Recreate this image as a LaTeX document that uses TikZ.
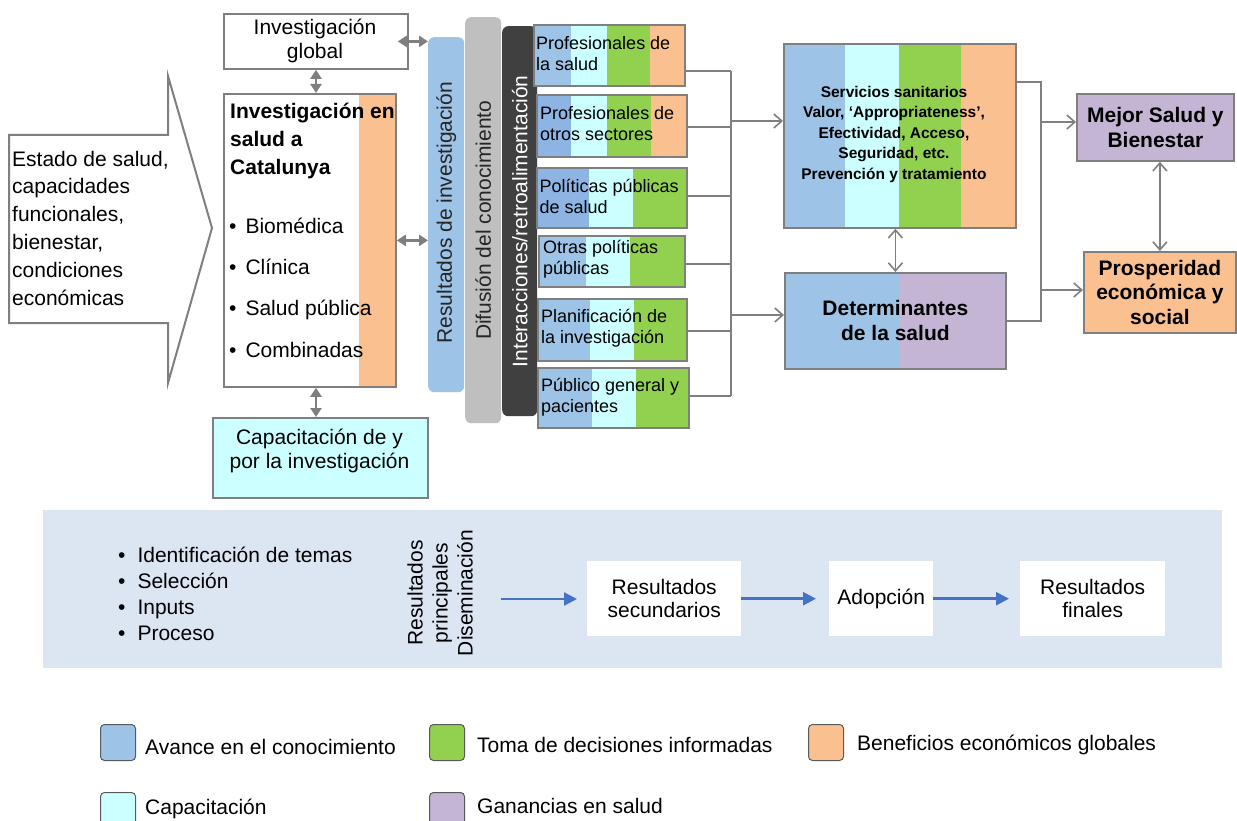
\documentclass[tikz,border=0pt]{standalone}
\usepackage{fontspec}
\setmainfont{Liberation Sans}
\usetikzlibrary{arrows.meta,calc}
\definecolor{cblue}{HTML}{9DC3E6}
\definecolor{cblued}{HTML}{8EB4E3}
\definecolor{ccyan}{HTML}{CCFFFF}
\definecolor{cgreen}{HTML}{92D050}
\definecolor{corange}{HTML}{FAC090}
\definecolor{cpurple}{HTML}{C4B5D5}
\definecolor{cgray}{HTML}{7F7F7F}
\definecolor{cband}{HTML}{DCE6F2}
\definecolor{carrow}{HTML}{4472C4}
\definecolor{cbar}{HTML}{BFBFBF}
\definecolor{cdark}{HTML}{404040}
\definecolor{swline}{HTML}{595959}
\newcommand{\fmain}{\fontsize{21pt}{27.8pt}\selectfont}
\newcommand{\fsk}{\fontsize{18pt}{21pt}\selectfont}
\newcommand{\fserv}{\fontsize{15.5pt}{20.5pt}\selectfont\bfseries}
\newcommand{\fbold}{\fontsize{21pt}{25pt}\selectfont\bfseries}
\begin{document}
\begin{tikzpicture}[x=1pt,y=-1pt,
  box/.style={draw=cgray, line width=1.8pt, inner sep=0pt, anchor=north west},
  txt/.style={inner sep=0pt, font=\fmain, text=black},
  lbl/.style={txt, text height=15pt, text depth=0pt, anchor=west},
  stxt/.style={inner sep=0pt, font=\fsk, align=left, anchor=west},
  barbox/.style={rounded corners=6pt, inner sep=0pt, anchor=north west, draw=none},
  conn/.style={draw=cgray, line width=1.6pt},
  oarr/.style={conn, -{Straight Barb[length=8pt,width=14pt]}},
  doarr/.style={conn, {Straight Barb[length=8pt,width=14pt]}-{Straight Barb[length=8pt,width=14pt]}},
  darr/.style={draw=cgray, line width=2.6pt, {Triangle[length=9pt,width=11pt]}-{Triangle[length=9pt,width=11pt]}},
  barr/.style={draw=carrow, line width=2.5pt, -{Triangle[length=13pt,width=13pt]}},
  wbox/.style={fill=white, inner sep=0pt, anchor=north west, align=center, font=\fontsize{21pt}{23.5pt}\selectfont},
  swatch/.style={draw=swline, line width=1pt, rounded corners=4pt, minimum width=35pt, minimum height=36pt, inner sep=0pt, anchor=north west},
]
\useasboundingbox (0,0) rectangle (1237,821);
\fill[white] (0,0) rectangle (1237,821);

% big arrow
\draw[draw=cgray, line width=2pt, fill=white] (9,135) -- (168,135) -- (168,76) -- (212,228) -- (168,383) -- (168,323) -- (9,323) -- cycle;
\node[txt, align=left, anchor=west] (estado) at (12,228) {Estado de salud,\\capacidades\\funcionales,\\bienestar,\\condiciones\\económicas};

% Investigacion global
\node[box, fill=white, minimum width=184pt, minimum height=55pt] (ig) at (223,13) {};
\node[txt, align=center, font=\fontsize{21pt}{24pt}\selectfont] (igt) at (315,41) {Investigación\\global};

% Investigacion en salud
\fill[corange] (359,93) rectangle (395,386);
\node[box, minimum width=172pt, minimum height=293pt] (isc) at (223,93) {};
\node[txt, align=left, anchor=west, font=\fontsize{21pt}{28pt}\selectfont\bfseries] (isct) at (230,141) {Investigación en\\salud a\\Catalunya};
\node[lbl] (bio) at (229,226) {\textbullet\hspace{9pt}Biomédica};
\node[lbl] (cli) at (229,267) {\textbullet\hspace{9pt}Clínica};
\node[lbl] (sap) at (229,308) {\textbullet\hspace{9pt}Salud pública};
\node[lbl] (com) at (229,350) {\textbullet\hspace{9pt}Combinadas};

% Capacitacion
\node[box, fill=ccyan, minimum width=215pt, minimum height=80pt] (cap) at (212,417) {};
\node[txt, align=center, font=\fontsize{21pt}{24pt}\selectfont] (capt) at (319.5,451) {Capacitación de y\\por la investigación};

% bars
\node[barbox, fill=cblue, minimum width=36pt, minimum height=355pt] (res) at (428,37) {};
\node[txt, rotate=90, text=black!85] (rest) at ($(res.center)+(0,-2)$) {Resultados de investigación};
\node[barbox, fill=cbar, minimum width=36pt, minimum height=406pt] (dif) at (465,17) {};
\node[txt, rotate=90, text=black!85] (dift) at (dif.center) {Difusión del conocimiento};
\node[barbox, fill=cdark, minimum width=35pt, minimum height=390pt] (int) at (502,26) {};
\node[txt, rotate=90, text=white] (intt) at (int.center) {Interacciones/retroalimentación};

% left double arrows
\coordinate (vx) at (316,0);
\draw[darr] ($(ig.east)+(-11,0)$) -- (ig.east -| res.west);
\draw[darr] (ig.south -| vx) -- (isc.north -| vx);
\draw[darr] (isc.south -| vx) -- (cap.north -| vx);
\draw[darr] (isc.east) -- (isc.east -| res.west);

% stakeholder boxes
\fill[cblue] (533,24) rectangle (571,85); \fill[ccyan] (571,24) rectangle (607,85);
\fill[cgreen] (607,24) rectangle (650,85); \fill[corange] (650,24) rectangle (684,85);
\node[box, minimum width=151pt, minimum height=61pt] (p1) at (533,24) {};
\node[stxt] (p1t) at ($(p1.west)+(3,-2)$) {Profesionales de\\la salud};

\fill[cblued] (536,94) rectangle (571,156); \fill[ccyan] (571,94) rectangle (607,156);
\fill[cgreen] (607,94) rectangle (651,156); \fill[corange] (651,94) rectangle (686,156);
\node[box, minimum width=150pt, minimum height=62pt] (p2) at (536,94) {};
\node[stxt] (p2t) at ($(p2.west)+(4,-2.5)$) {Profesionales de\\otros sectores};

\fill[cblued] (536,167) rectangle (589,227); \fill[ccyan] (589,167) rectangle (633,227);
\fill[cgreen] (633,167) rectangle (686,227);
\node[box, minimum width=150pt, minimum height=60pt] (p3) at (536,167) {};
\node[stxt] (p3t) at ($(p3.west)+(3.5,-1)$) {Políticas públicas\\de salud};

\fill[cblue] (538,235) rectangle (586,286); \fill[ccyan] (586,235) rectangle (630,286);
\fill[cgreen] (630,235) rectangle (684,286);
\node[box, minimum width=146pt, minimum height=51pt] (p4) at (538,235) {};
\node[stxt] (p4t) at ($(p4.west)+(5,-2.5)$) {Otras políticas\\públicas};

\fill[cblue] (537,298) rectangle (590,360); \fill[ccyan] (590,298) rectangle (634,360);
\fill[cgreen] (634,298) rectangle (686,360);
\node[box, minimum width=149pt, minimum height=62pt] (p5) at (537,298) {};
\node[stxt] (p5t) at ($(p5.west)+(4,-2)$) {Planificación de\\la investigación};

\fill[cblue] (537,367) rectangle (592,427); \fill[ccyan] (592,367) rectangle (636,427);
\fill[cgreen] (636,367) rectangle (688,427);
\node[box, minimum width=151pt, minimum height=60pt] (p6) at (537,367) {};
\node[stxt] (p6t) at ($(p6.west)+(4,-1)$) {Público general y\\pacientes};

% Servicios
\fill[cblue] (783,43) rectangle (845,227); \fill[ccyan] (845,43) rectangle (899,227);
\fill[cgreen] (899,43) rectangle (961,227); \fill[corange] (961,43) rectangle (1015,227);
\node[box, minimum width=232pt, minimum height=184pt] (serv) at (783,43) {};
\node[inner sep=0pt, font=\fserv, align=center] (servt) at (894,134) {Servicios sanitarios\\Valor, ‘Appropriateness’,\\Efectividad, Acceso,\\Seguridad, etc.\\Prevención y tratamiento};

% Determinantes
\fill[cblue] (784,272) rectangle (899,368); \fill[cpurple] (899,272) rectangle (1005,368);
\node[box, minimum width=221pt, minimum height=96pt, font=\fbold, align=center] (det) at (784,272) {Determinantes\\de la salud};

% outcomes
\node[box, fill=cpurple, minimum width=157pt, minimum height=67pt, font=\fbold, align=center] (mej) at (1076,93) {Mejor Salud y\\Bienestar};
\node[box, fill=corange, minimum width=152pt, minimum height=81pt, font=\fontsize{21pt}{24.5pt}\selectfont\bfseries, align=center] (pro) at (1083,251) {Prosperidad\\económica y\\social};

% left bus
\coordinate (b1) at (731,71);
\coordinate (b2) at (731,127);
\coordinate (b3) at (731,196);
\coordinate (b4) at (731,264);
\coordinate (b5) at (731,331);
\coordinate (b6) at (731,396);
\draw[conn] (p1.east |- b1) -- (b1);
\draw[conn] (p2.east |- b2) -- (b2);
\draw[conn] (p3.east |- b3) -- (b3);
\draw[conn] (p4.east |- b4) -- (b4);
\draw[conn] (p5.east |- b5) -- (b5);
\draw[conn] (p6.east |- b6) -- (b6);
\draw[conn] (b1) -- (b6);
\coordinate (ba) at (731,121);
\coordinate (bb) at (731,315);
\draw[oarr] (ba) -- (ba -| serv.west);
\draw[oarr] (bb) -- (bb -| det.west);

% right bus
\coordinate (r1) at (1041,82);
\coordinate (r2) at (1041,321);
\draw[conn] (serv.east |- r1) -- (r1) -- (r2) -- (r2 -| det.east);
\coordinate (ra) at (1041,122);
\coordinate (rb) at (1041,290);
\draw[oarr] (ra) -- (ra -| mej.west);
\draw[oarr] (rb) -- (rb -| pro.west);

\draw[doarr] (det.north) -- (det.north |- serv.south);
\draw[doarr] (pro.north) -- (pro.north |- mej.south);

% bottom band
\node[fill=cband, minimum width=1179pt, minimum height=158pt, inner sep=0pt, anchor=north west] (band) at (43,510) {};
\node[lbl] (i1) at (118,555) {\textbullet\hspace{12pt}Identificación de temas};
\node[lbl] (i2) at (118,581) {\textbullet\hspace{12pt}Selección};
\node[lbl] (i3) at (118,607) {\textbullet\hspace{12pt}Inputs};
\node[lbl] (i4) at (118,633) {\textbullet\hspace{12pt}Proceso};
\node[txt, rotate=90, align=center, font=\fontsize{21pt}{25pt}\selectfont] (rpd) at (440,593) {Resultados\\principales\\Diseminación};
\coordinate (bs) at (501,599);
\node[wbox, minimum width=154pt, minimum height=75pt] (sec) at (587,561) {Resultados\\secundarios};
\node[wbox, minimum width=104pt, minimum height=75pt] (ado) at (829,561) {Adopción};
\node[wbox, minimum width=145pt, minimum height=75pt] (fin) at (1020,561) {Resultados\\finales};
\draw[barr] (bs) -- ($(bs -| sec.west)+(-10,0)$);
\draw[barr] (sec.east) -- ($(ado.west)+(-13,0)$);
\draw[barr] (ado.east) -- ($(fin.west)+(-11,0)$);

% legend
\node[swatch, fill=cblue] (lg1) at (100,724) {};
\node[lbl] (lg1t) at (145,747) {Avance en el conocimiento};
\node[swatch, fill=cgreen] (lg2) at (429,724) {};
\node[lbl] (lg2t) at (477,745) {Toma de decisiones informadas};
\node[swatch, fill=corange] (lg3) at (808,724) {};
\node[lbl] (lg3t) at (857,743) {Beneficios económicos globales};
\node[swatch, fill=ccyan] (lg4) at (100,792) {};
\node[lbl] (lg4t) at (145,807) {Capacitación};
\node[swatch, fill=cpurple] (lg5) at (429,792) {};
\node[lbl] (lg5t) at (477,806) {Ganancias en salud};
\end{tikzpicture}
\end{document}
